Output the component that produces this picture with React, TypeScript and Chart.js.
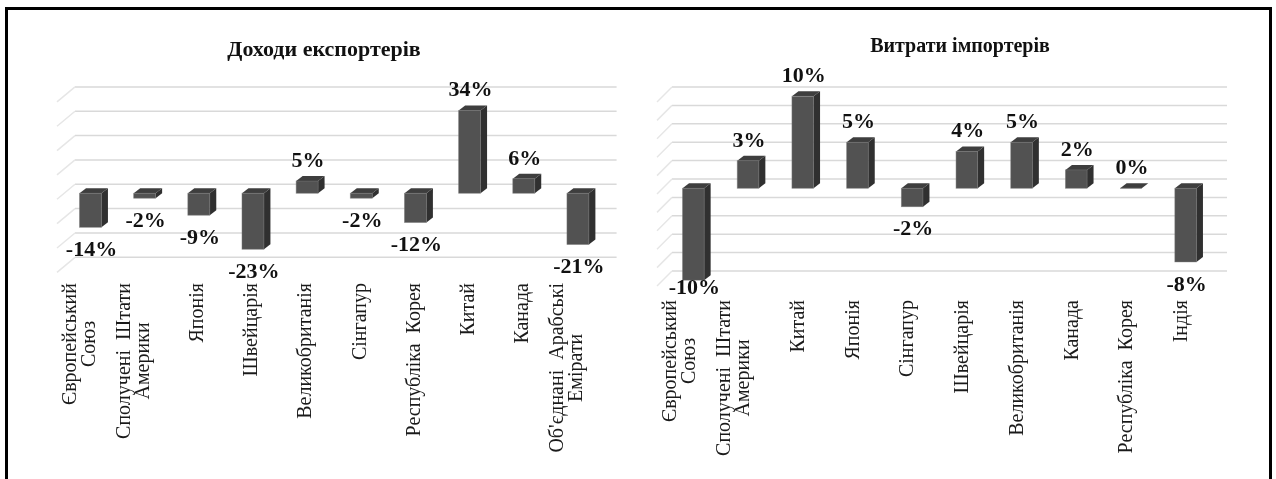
import React, { useEffect, useRef } from "react";
import { Chart, registerables } from "chart.js";

Chart.register(...registerables);

const FONT = "'Liberation Serif', 'Times New Roman', Times, serif";

// ---------- Left chart: Доходи експортерів ----------
const exportTitle = "Доходи експортерів";
const exportCategories: string[][] = [
  ["Європейський", "Союз"],
  ["Сполучені  Штати", "Америки"],
  ["Японія"],
  ["Швейцарія"],
  ["Великобританія"],
  ["Сінгапур"],
  ["Республіка  Корея"],
  ["Китай"],
  ["Канада"],
  ["Об'єднані  Арабські", "Емірати"],
];
const exportValues = [-14, -2, -9, -23, 5, -2, -12, 34, 6, -21];
const exportGridTicks = [-30, -20, -10, 0, 10, 20, 30, 40];

// ---------- Right chart: Витрати імпортерів ----------
const importTitle = "Витрати імпортерів";
const importCategories: string[][] = [
  ["Європейський", "Союз"],
  ["Сполучені  Штати", "Америки"],
  ["Китай"],
  ["Японія"],
  ["Сінгапур"],
  ["Швейцарія"],
  ["Великобританія"],
  ["Канада"],
  ["Республіка  Корея"],
  ["Індія"],
];
const importValues = [-10, 3, 10, 5, -2, 4, 5, 2, 0, -8];
const importGridTicks = [-10, -8, -6, -4, -2, 0, 2, 4, 6, 8, 10];

const FRONT = "#525252";
const SIDE = "#303030";
const TOP = "#3e3e3e";
const GRID = "#d9d9d9";
const GRID_SIDE = "#e6e6e6";

type Cfg = {
  title: string;
  categories: string[][];
  values: number[];
  grid: number[];
  padding: { left: number; right: number; top: number; bottom: number };
  barPct: number;
  backDxL: number;
  backDxR: number;
  backDy: number;
  sideDx: number;
  sideDy: number;
  depthDx: number;
  depthDy: number;
  labelAbove: number;
  labelBelow: number;
  labelClamp: number;
  labelSize: number;
  catGap: number;
  catDx: number;
  catSize: number;
  catLineH: number;
  titleX: number;
  titleY: number;
  titleSize: number;
};

function poly(ctx: CanvasRenderingContext2D, pts: number[][]) {
  ctx.beginPath();
  ctx.moveTo(pts[0][0], pts[0][1]);
  for (let i = 1; i < pts.length; i++) ctx.lineTo(pts[i][0], pts[i][1]);
  ctx.closePath();
  ctx.fill();
}

function makePlugin(cfg: Cfg) {
  return {
    id: "excel3d",
    beforeDatasetsDraw(chart: any) {
      const { ctx, chartArea, scales } = chart;
      const ys = scales.y;
      ctx.save();
      ctx.lineWidth = 1.5;
      cfg.grid.forEach((v) => {
        const py = ys.getPixelForValue(v) - cfg.backDy;
        const xl = chartArea.left + cfg.backDxL;
        const xr = chartArea.right + cfg.backDxR;
        ctx.strokeStyle = GRID;
        ctx.beginPath();
        ctx.moveTo(xl, py);
        ctx.lineTo(xr, py);
        ctx.stroke();
        ctx.strokeStyle = GRID_SIDE;
        ctx.beginPath();
        ctx.moveTo(xl, py);
        ctx.lineTo(xl - cfg.sideDx, py + cfg.sideDy);
        ctx.stroke();
      });
      ctx.restore();
    },
    afterDatasetsDraw(chart: any) {
      const { ctx, chartArea, scales } = chart;
      const meta = chart.getDatasetMeta(0);
      ctx.save();
      meta.data.forEach((el: any, i: number) => {
        const { x, y, base, width } = el.getProps(["x", "y", "base", "width"], true);
        const top = Math.min(y, base);
        const bottom = Math.max(y, base);
        const l = x - width / 2;
        const r = x + width / 2;
        const dx = cfg.depthDx;
        const dy = cfg.depthDy;
        ctx.fillStyle = SIDE;
        poly(ctx, [[r, top], [r + dx, top - dy], [r + dx, bottom - dy], [r, bottom]]);
        ctx.fillStyle = TOP;
        poly(ctx, [[l, top], [l + dx, top - dy], [r + dx, top - dy], [r, top]]);
        ctx.strokeStyle = "rgba(120,120,120,0.6)";
        ctx.lineWidth = 0.8;
        ctx.strokeRect(l, top, width, bottom - top);

        // data label
        const v = cfg.values[i];
        const cy = v >= 0 ? top - cfg.labelAbove : Math.min(bottom + cfg.labelBelow, chartArea.bottom + cfg.labelClamp);
        ctx.fillStyle = "#111111";
        ctx.font = `bold ${cfg.labelSize}px ${FONT}`;
        ctx.textAlign = "center";
        ctx.textBaseline = "middle";
        ctx.fillText(`${v}%`, x + 1, cy);
      });

      // category labels (rotated, block stacked leftwards from the tick)
      const xs = scales.x;
      ctx.font = `${cfg.catSize}px ${FONT}`;
      ctx.fillStyle = "#1a1a1a";
      cfg.categories.forEach((lines, i) => {
        const cx = xs.getPixelForValue(i) + cfg.catDx;
        const topY = chartArea.bottom + cfg.catGap;
        const maxW = Math.max(...lines.map((t) => ctx.measureText(t).width));
        const n = lines.length;
        ctx.save();
        ctx.translate(cx, topY);
        ctx.rotate(-Math.PI / 2);
        ctx.textAlign = "center";
        ctx.textBaseline = "middle";
        lines.forEach((t, j) => {
          const ly = -(n - 1 - j) * cfg.catLineH;
          ctx.fillText(t, -maxW / 2, ly);
        });
        ctx.restore();
      });

      // title
      ctx.font = `bold ${cfg.titleSize}px ${FONT}`;
      ctx.fillStyle = "#111111";
      ctx.textAlign = "center";
      ctx.textBaseline = "middle";
      ctx.fillText(cfg.title, cfg.titleX, cfg.titleY);
      ctx.restore();
    },
  };
}

function Bar3D({ cfg, left, width }: { cfg: Cfg; left: number; width: number }) {
  const ref = useRef<HTMLCanvasElement | null>(null);
  useEffect(() => {
    if (!ref.current) return;
    const chart = new Chart(ref.current, {
      type: "bar",
      data: {
        labels: cfg.categories.map((c) => c.join(" ")),
        datasets: [
          {
            data: cfg.values,
            backgroundColor: FRONT,
            borderWidth: 0,
            barPercentage: cfg.barPct,
            categoryPercentage: 1,
          },
        ],
      },
      options: {
        animation: false,
        responsive: true,
        maintainAspectRatio: false,
        events: [],
        layout: { padding: cfg.padding },
        plugins: {
          legend: { display: false },
          title: { display: false },
          tooltip: { enabled: false },
        },
        scales: {
          x: { display: false },
          y: { display: false, min: cfg.grid[0], max: cfg.grid[cfg.grid.length - 1] },
        },
      },
      plugins: [makePlugin(cfg)],
    } as any);
    return () => chart.destroy();
  }, [cfg]);
  return (
    <div style={{ position: "absolute", left, top: 0, width, height: 479 }}>
      <canvas ref={ref} />
    </div>
  );
}

const leftCfg: Cfg = {
  title: exportTitle,
  categories: exportCategories,
  values: exportValues,
  grid: exportGridTicks,
  padding: { left: 63.4, right: 35, top: 95.9, bottom: 212.7 },
  barPct: 0.405,
  backDxL: 11.6,
  backDxR: 11.6,
  backDy: 9,
  sideDx: 18,
  sideDy: 15,
  depthDx: 6.5,
  depthDy: 5,
  labelAbove: 19.7,
  labelBelow: 23,
  labelClamp: 8,
  labelSize: 22,
  catGap: 16.7,
  catDx: -1,
  catSize: 20,
  catLineH: 19,
  titleX: 324,
  titleY: 50,
  titleSize: 22,
};

const rightCfg: Cfg = {
  title: importTitle,
  categories: importCategories,
  values: importValues,
  grid: importGridTicks,
  padding: { left: 26, right: 63, top: 96.3, bottom: 198.7 },
  barPct: 0.395,
  backDxL: 6,
  backDxR: 14,
  backDy: 9.3,
  sideDx: 15,
  sideDy: 15,
  depthDx: 6.5,
  depthDy: 5,
  labelAbove: 19.7,
  labelBelow: 23,
  labelClamp: 8,
  labelSize: 22,
  catGap: 19.7,
  catDx: -4,
  catSize: 20,
  catLineH: 19,
  titleX: 320,
  titleY: 47,
  titleSize: 20,
};

export default function App() {
  return (
    <div
      style={{
        position: "fixed",
        left: 0,
        top: 0,
        width: 1276,
        height: 479,
        background: "#ffffff",
        overflow: "hidden",
      }}
    >
      <Bar3D cfg={leftCfg} left={0} width={640} />
      <Bar3D cfg={rightCfg} left={640} width={636} />
      <div
        style={{
          position: "absolute",
          left: 5,
          top: 7,
          width: 1276 - 5 - 4,
          height: 520,
          border: "3px solid #000",
          boxSizing: "border-box",
          pointerEvents: "none",
        }}
      />
    </div>
  );
}
